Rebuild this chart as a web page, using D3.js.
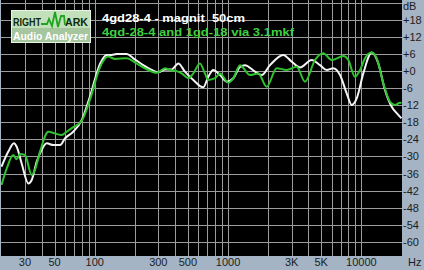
<!DOCTYPE html>
<html>
<head>
<meta charset="utf-8">
<script src="https://cdn.jsdelivr.net/npm/d3@7"></script>
<style>
  html, body { margin: 0; padding: 0; background: #a4b4c4; }
  svg { display: block; }
  text { font-family: "Liberation Sans", Arial, sans-serif; }
</style>
</head>
<body>
<div id="graph"></div>
<script>
      // white curve: 4gd28-4 alone
      var whiteFreq = [20, 22.5, 24.8, 26, 28.3, 31.8, 33.7, 36.7, 40, 43.7, 49, 55, 60, 69, 80, 92, 110, 123, 134, 146, 174, 195, 231, 268, 300, 337, 378, 424, 475, 549, 652, 711, 775, 871, 977, 1095, 1230, 1340, 1593, 1789, 2064, 2598, 3003, 3466, 4243, 4897, 5495, 6158, 6916, 7762, 8464, 9226, 10342, 11954, 13400, 15032, 16888, 18410, 20000];
      var whiteDb = [-33.6, -28.3, -25.4, -26.6, -32.4, -39.5, -38.3, -31.9, -27.7, -25.4, -26, -26, -23.6, -21.3, -17.2, -9, 2.7, 5.7, 5.7, 6, 6, 4.5, 2.1, 0.4, -0.4, 0.6, 0.6, 2.7, -0.2, -3.1, -5.7, -2, 0.4, -1.4, -3.7, -2.5, 1.5, 2.1, -0.2, -1.4, 2.1, 5.7, 3.3, 1.3, 3.9, 2.1, 0.4, 1.0, -1.4, -7.8, -11.9, -9.6, -0.8, 6.5, 2.7, -6.6, -12.5, -14.8, -16.6];

      // green curve: 4gd-28-4 and 1gd-18 via 3.1mkf
      var greenFreq = [20, 21.9, 24.5, 26, 27.5, 30, 33.7, 35.6, 38.9, 44.9, 50.4, 56.6, 61.7, 69, 80, 92, 110, 126, 142, 174, 201, 238, 292, 337, 367, 412, 449, 504, 549, 616, 671, 711, 799, 871, 1005, 1095, 1230, 1462, 1687, 1950, 2318, 2754, 3273, 3779, 4490, 5184, 5993, 7321, 7980, 8953, 9770, 10645, 11954, 13032, 14606, 16400, 17880, 19490, 20000];
      var greenDb = [-40, -34.2, -29.5, -31, -29.1, -29.5, -36.5, -34.8, -28.3, -21.3, -21.9, -22.5, -21.3, -19.7, -17.5, -10.2, 1.5, 5.1, 4.3, 4.5, 3, 1, -0.6, 1.0, 0.4, 0, -0.8, -2.5, -0.8, 2.7, -0.8, -3.1, -2.5, -0.8, -4.1, -2.5, 2.1, -1.4, -0.8, -5.5, 1.0, 0.4, 1.5, -3.7, 3.9, 6.3, 3.9, 5.3, 3.9, -2, 0.4, 4.5, 6.5, 4.5, -4.3, -10.8, -11.9, -11.1, -11.3];

      var xGrid = [30, 40, 50, 60, 70, 80, 90, 100, 200, 300, 400, 500, 600, 700, 800, 900, 1000, 2000, 3000, 4000, 5000, 6000, 7000, 8000, 9000, 10000];
      var xTickValues = [30, 50, 100, 300, 500, 1000, 3000, 5000, 10000];
      var xTickLabels = ["30", "50", "100", "300", "500", "1000", "3K", "5K", "10000"];
      var yTickValues = [18, 12, 6, 0, -6, -12, -18, -24, -30, -36, -42, -48, -54, -60];
      var yTickLabels = ["+18", "+12", "+6", "+0", "-6", "-12", "-18", "-24", "-30", "-36", "-42", "-48", "-54", "-60"];
      var yGrid = [24].concat(yTickValues);

      var title1 = "4gd28-4 - magnit  50cm";
      var title2 = "4gd-28-4 and 1gd-18 via 3.1mkf";

      function buildGraph() {
          var W = 424, H = 270;
          var svg = d3.select("#graph")
              .append("svg")
              .attr("width", W)
              .attr("height", H);

          var x = d3.scaleLog().domain([20, 20000]).range([1.5, 401.5]);
          var y = d3.scaleLinear().domain([-65, 25]).range([256, 0]);

          // plot background
          svg.append("rect")
              .attr("x", 1).attr("y", 0)
              .attr("width", 401).attr("height", 256)
              .attr("fill", "#000");

          // grid
          var grid = svg.append("g").attr("stroke", "#9c9c9c").attr("stroke-width", 1);
          grid.selectAll(".vg").data(xGrid).enter()
              .append("line")
              .attr("x1", function(d) { return Math.round(x(d)) + 0.5; })
              .attr("x2", function(d) { return Math.round(x(d)) + 0.5; })
              .attr("y1", 0).attr("y2", 256);
          grid.selectAll(".hg").data(yGrid).enter()
              .append("line")
              .attr("y1", function(d) { return Math.round(y(d)) + 0.5; })
              .attr("y2", function(d) { return Math.round(y(d)) + 0.5; })
              .attr("x1", 1).attr("x2", 402);

          // curves
          var line = d3.line()
              .x(function(d) { return x(d[0]); })
              .y(function(d) { return y(d[1]); })
              .curve(d3.curveMonotoneX);

          svg.append("clipPath").attr("id", "clip")
              .append("rect").attr("x", 1).attr("y", 0).attr("width", 401).attr("height", 256);

          var series = [
              { key: "white", color: "#f4f4f4", values: d3.zip(whiteFreq, whiteDb) },
              { key: "green", color: "#2fc22f", values: d3.zip(greenFreq, greenDb) }
          ];
          svg.append("g").attr("clip-path", "url(#clip)")
              .selectAll("path").data(series).enter()
              .append("path")
              .attr("fill", "none")
              .attr("stroke", function(d) { return d.color; })
              .attr("stroke-width", 2)
              .attr("stroke-linejoin", "round")
              .attr("d", function(d) { return line(d.values); });

          // x labels
          svg.selectAll(".xl").data(xTickValues).enter()
              .append("text")
              .attr("x", function(d) { return x(d); })
              .attr("y", 266)
              .attr("text-anchor", "middle")
              .attr("font-size", 11)
              .attr("fill", "#1c1c1c")
              .text(function(d, i) { return xTickLabels[i]; });
          svg.append("text")
              .attr("x", 408).attr("y", 266)
              .attr("font-size", 11).attr("fill", "#1c1c1c")
              .text("Hz");

          // y labels on the right
          svg.selectAll(".yl").data(yTickValues).enter()
              .append("text")
              .attr("x", 403)
              .attr("y", function(d) { return y(d) + 4; })
              .attr("font-size", 11)
              .attr("fill", "#1c1c1c")
              .text(function(d, i) { return yTickLabels[i]; });
          svg.append("text")
              .attr("x", 403).attr("y", 10)
              .attr("font-size", 11).attr("fill", "#1c1c1c")
              .text("dB");

          // titles
          svg.append("text")
              .attr("x", 102).attr("y", 22)
              .attr("font-family", "DejaVu Sans")
              .attr("font-weight", "bold")
              .attr("font-size", 11.5)
              .attr("fill", "#ffffff")
              .attr("xml:space", "preserve")
              .style("white-space", "pre")
              .attr("textLength", 143)
              .attr("lengthAdjust", "spacingAndGlyphs")
              .text(title1);
          svg.append("text")
              .attr("x", 102).attr("y", 36)
              .attr("font-family", "DejaVu Sans")
              .attr("font-weight", "bold")
              .attr("font-size", 11.5)
              .attr("fill", "#3fd03f")
              .attr("textLength", 192)
              .attr("lengthAdjust", "spacingAndGlyphs")
              .text(title2);

          // logo
          var logo = svg.append("g");
          logo.append("rect")
              .attr("x", 11.5).attr("y", 10.5).attr("width", 79).attr("height", 32)
              .attr("fill", "#c2e0ba").attr("stroke", "#e8f4e6");
          logo.append("rect")
              .attr("x", 12).attr("y", 28).attr("width", 78).attr("height", 14)
              .attr("fill", "#a6c6a0");
          logo.append("text")
              .attr("x", 13).attr("y", 26)
              .attr("font-family", "DejaVu Sans")
              .attr("font-weight", "bold").attr("font-size", 11)
              .attr("fill", "#0c2a0c")
              .attr("textLength", 28).attr("lengthAdjust", "spacingAndGlyphs")
              .text("RIGHT");
          logo.append("text")
              .attr("x", 65).attr("y", 26)
              .attr("font-family", "DejaVu Sans")
              .attr("font-weight", "bold").attr("font-size", 11)
              .attr("fill", "#0c2a0c")
              .attr("textLength", 23).attr("lengthAdjust", "spacingAndGlyphs")
              .text("ARK");
          logo.append("path")
              .attr("d", "M41,24 L47,24 L49,19 L52,26 L55,12 L58,27 L61,16 L64,16 L65,25")
              .attr("fill", "none").attr("stroke", "#1ea41e").attr("stroke-width", 1.8);
          logo.append("text")
              .attr("x", 13).attr("y", 40)
              .attr("font-family", "DejaVu Sans")
              .attr("font-weight", "bold")
              .attr("font-size", 10.5)
              .attr("fill", "#ffffff")
              .attr("textLength", 75).attr("lengthAdjust", "spacingAndGlyphs")
              .text("Audio Analyzer");
      }

      window.addEventListener("load", buildGraph);
</script>
</body>
</html>
